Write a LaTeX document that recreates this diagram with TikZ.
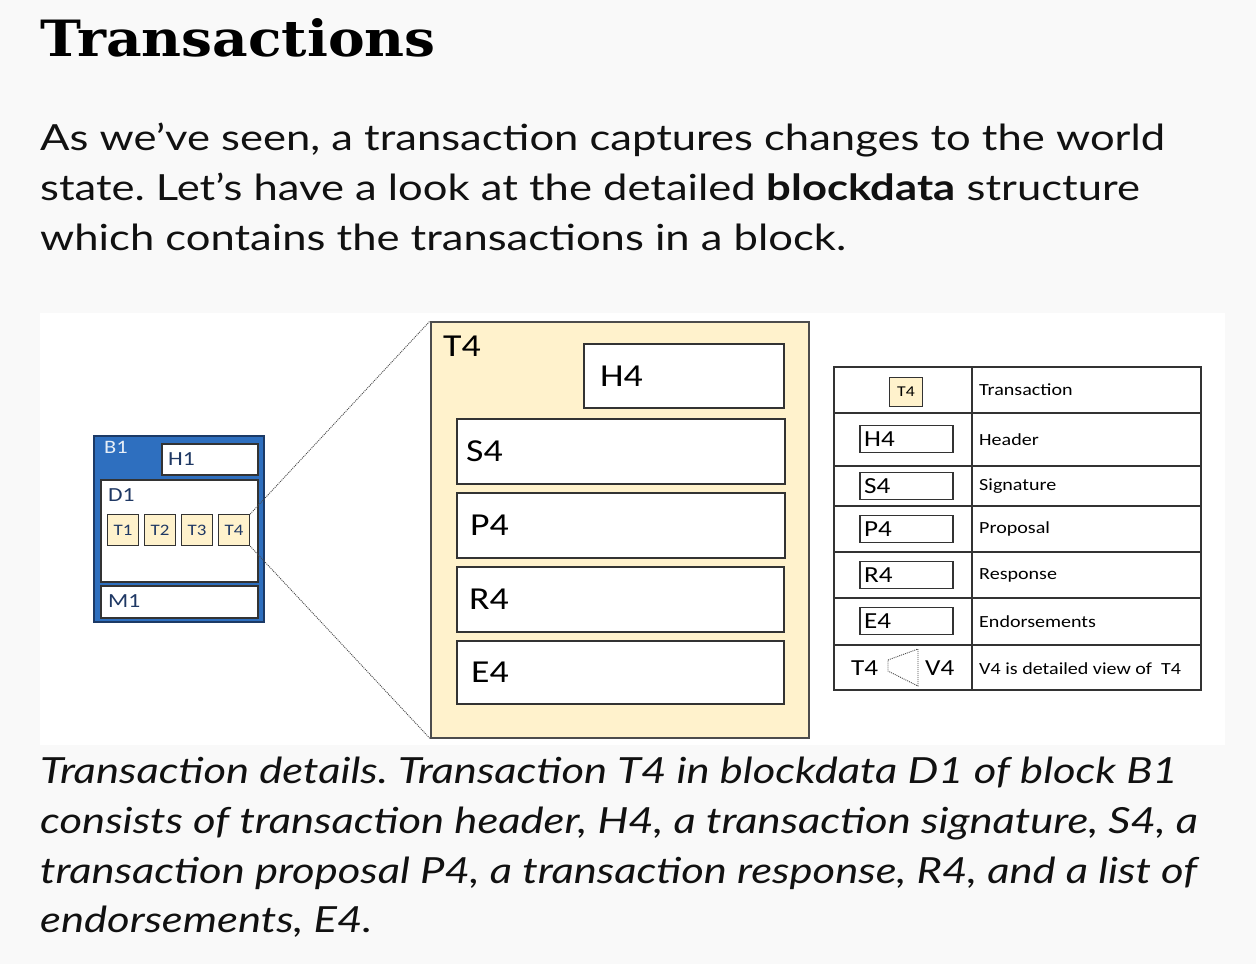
\documentclass[tikz,border=0pt]{standalone}
\usepackage{fontspec}
\setmainfont{Lato}[FakeStretch=1.21]
\newfontfamily\headfont{DejaVu Serif}[FakeStretch=1.1]
\newfontfamily\diafont{Carlito}[FakeStretch=1.18]
\frenchspacing
\definecolor{pagebg}{HTML}{F9F9F9}
\definecolor{blockblue}{HTML}{2E6FBF}
\definecolor{blockedge}{HTML}{1C3A66}
\definecolor{navy}{HTML}{1F3864}
\definecolor{cream}{HTML}{FFF2CC}
\definecolor{edge}{HTML}{333333}
\definecolor{bodytext}{HTML}{111111}
\tikzset{
  para/.style={anchor=base west, inner sep=0pt, text=bodytext, font=\fontsize{36}{44}\selectfont},
  capt/.style={anchor=base west, inner sep=0pt, text=bodytext, font=\itshape\fontsize{36}{44}\selectfont},
  wbox/.style={draw=edge, fill=white, line width=1.6pt, anchor=north west, inner sep=0pt},
  tbox/.style={draw=edge, fill=cream, line width=1.2pt, anchor=north west, inner sep=0pt,
               minimum width=31pt, minimum height=31pt, text=navy, font=\diafont\fontsize{16}{18}\selectfont},
  blab/.style={anchor=west, inner sep=0pt, text=navy, font=\diafont\fontsize{20}{23}\selectfont},
  biglab/.style={anchor=west, inner sep=0pt, text=black, font=\diafont\fontsize{32}{36}\selectfont},
  leglab/.style={anchor=west, inner sep=0pt, text=black, font=\diafont\fontsize{23}{26}\selectfont},
  legtxt/.style={anchor=west, inner sep=0pt, text=black, font=\diafont\fontsize{17}{20}\selectfont},
  zoomline/.style={draw=black!70, line width=0.9pt, dash pattern=on 1pt off 1pt},
}
\begin{document}
\begin{tikzpicture}[x=1pt,y=-1pt]
\useasboundingbox (0,0) rectangle (1256,964);
\fill[pagebg] (0,0) rectangle (1256,964);
\fill[white] (40,313) rectangle (1225,745);

% heading and introduction
\node[anchor=base west, inner sep=0pt, font=\headfont\bfseries\fontsize{50}{58}\selectfont] (title) at (40,56) {Transactions};
\node[para] (p1) at (40,150) {As we’ve seen, a transaction captures changes to the world};
\node[para] (p2) at (40,200) {state. Let’s have a look at the detailed \textbf{blockdata} structure};
\node[para] (p3) at (40,250) {which contains the transactions in a block.};

% block B1
\node[draw=blockedge, fill=blockblue, line width=2pt, anchor=north west, inner sep=0pt,
      minimum width=170pt, minimum height=186pt] (b1) at (93,435) {};
\node[anchor=west, inner sep=0pt, text=white!88!blockblue, font=\diafont\fontsize{19}{22}\selectfont] (b1lab) at (104,447) {B1};
\node[wbox, minimum width=96pt, minimum height=31pt] (h1) at (161,443) {};
\node[blab] (h1lab) at (168,459) {H1};
\node[wbox, minimum width=157pt, minimum height=102pt] (d1) at (100,479) {};
\node[blab] (d1lab) at (108,495) {D1};
\node[wbox, minimum width=157pt, minimum height=32pt] (m1) at (100,585) {};
\node[blab] (m1lab) at (108,601) {M1};
\node[tbox] (t1) at (107,514) {T1};
\node[tbox] (t2) at (144,514) {T2};
\node[tbox] (t3) at (181,514) {T3};
\node[tbox] (t4) at (218,514) {T4};

% detailed view of T4
\node[draw=black!70, fill=cream, line width=1.5pt, anchor=north west, inner sep=0pt,
      minimum width=378pt, minimum height=416pt] (v4) at (430,321) {};
\draw[zoomline] (t4.north east) -- (v4.north west);
\draw[zoomline] (t4.south east) -- (v4.south west);
\node[biglab] (v4lab) at (443,346) {T4};
\node[wbox, minimum width=200pt, minimum height=64pt] (h4) at (583,343) {};
\node[biglab] (h4lab) at (600,376) {H4};
\node[wbox, minimum width=328pt, minimum height=65pt] (s4) at (456,418) {};
\node[biglab] (s4lab) at (466,451) {S4};
\node[wbox, minimum width=328pt, minimum height=65pt] (p4) at (456,492) {};
\node[biglab] (p4lab) at (470,525) {P4};
\node[wbox, minimum width=327pt, minimum height=65pt] (r4) at (456,566) {};
\node[biglab] (r4lab) at (469,599) {R4};
\node[wbox, minimum width=327pt, minimum height=63pt] (e4) at (456,640) {};
\node[biglab] (e4lab) at (471,672) {E4};

% legend table
\draw[edge, line width=1.3pt] (834,367) rectangle (1201,690);
\draw[edge, line width=1.3pt] (972,367) -- (972,690);
\foreach \yy in {413,466,506,552,598,645}
  \draw[edge, line width=1.3pt] (834,\yy) -- (1201,\yy);
\node[draw=edge, fill=cream, line width=1.2pt, inner sep=0pt, minimum width=33pt, minimum height=29pt,
      font=\diafont\fontsize{15}{17}\selectfont] (lt4) at (906,392) {T4};
\node[legtxt] (lt4txt) at (979,390) {Transaction};
\node[wbox, anchor=west, minimum width=93pt, minimum height=27pt] (lh4) at (859,439) {};
\node[leglab] (lh4lab) at (864,439) {H4};
\node[legtxt] (lh4txt) at (979,440) {Header};
\node[wbox, anchor=west, minimum width=93pt, minimum height=27pt] (ls4) at (859,486) {};
\node[leglab] (ls4lab) at (864,486) {S4};
\node[legtxt] (ls4txt) at (979,486) {Signature};
\node[wbox, anchor=west, minimum width=93pt, minimum height=27pt] (lp4) at (859,529) {};
\node[leglab] (lp4lab) at (864,529) {P4};
\node[legtxt] (lp4txt) at (979,529) {Proposal};
\node[wbox, anchor=west, minimum width=93pt, minimum height=27pt] (lr4) at (859,575) {};
\node[leglab] (lr4lab) at (864,575) {R4};
\node[legtxt] (lr4txt) at (979,575) {Response};
\node[wbox, anchor=west, minimum width=93pt, minimum height=27pt] (le4) at (859,621) {};
\node[leglab] (le4lab) at (864,621) {E4};
\node[legtxt] (le4txt) at (979,622) {Endorsements};
\node[leglab] (lvt4) at (851,668) {T4};
\node[leglab] (lvv4) at (925,668) {V4};
\draw[black!70, line width=0.9pt, dash pattern=on 1pt off 1pt]
  (888,660) -- (918,649) -- (918,686) -- (888,671) -- cycle;
\node[legtxt] (lvtxt) at (979,669) {V4 is detailed view of\ \ T4};

% caption
\node[capt] (c1) at (40,783) {Transaction details. Transaction T4 in blockdata D1 of block B1};
\node[capt] (c2) at (40,833) {consists of transaction header, H4, a transaction signature, S4, a};
\node[capt] (c3) at (40,883) {transaction proposal P4, a transaction response, R4, and a list of};
\node[capt] (c4) at (40,932) {endorsements, E4.};
\end{tikzpicture}
\end{document}
